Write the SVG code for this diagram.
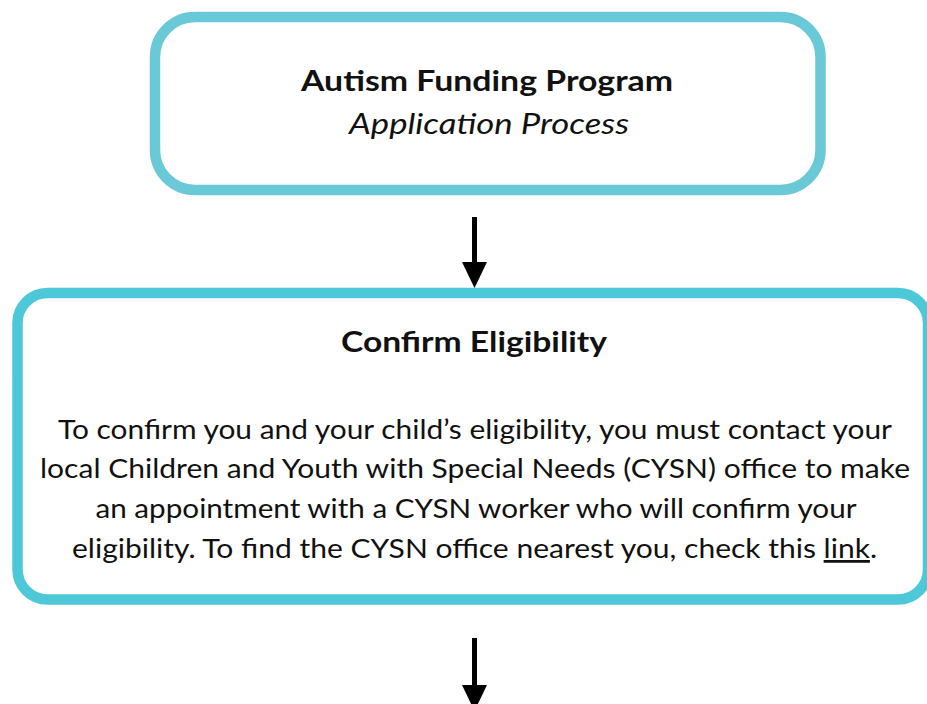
<svg xmlns="http://www.w3.org/2000/svg" width="927" height="704" viewBox="0 0 927 704">
<style>
.box1{fill:#fff;stroke:#6AC9D6;stroke-width:10.5}
.box2{fill:#fff;stroke:#4CC8D8;stroke-width:10.5}
text{font-family:Lato,"Noto Sans","Liberation Sans",sans-serif;fill:#111;text-anchor:middle}
.h{font-weight:bold;font-size:28px}
.i{font-style:italic;font-size:28px}
.b{font-size:27.5px}
.conn line{stroke:#000;stroke-width:5}
.conn polygon{fill:#000}
</style>
<rect width="927" height="704" fill="#fff"/>
<g id="node-title">
<rect class="box1" x="155" y="17" width="665.5" height="173" rx="40"/>
<text class="h" x="487" y="91" textLength="372" lengthAdjust="spacingAndGlyphs">Autism Funding Program</text>
<text class="i" x="489" y="134" textLength="280" lengthAdjust="spacingAndGlyphs">Application Process</text>
</g>
<g id="node-eligibility">
<rect class="box2" x="17.5" y="293" width="910.5" height="306.5" rx="30"/>
<text class="h" x="474" y="352" textLength="266" lengthAdjust="spacingAndGlyphs">Confirm Eligibility</text>
<text class="b" x="475" y="438.5" textLength="834" lengthAdjust="spacingAndGlyphs">To confirm you and your child’s eligibility, you must contact your</text>
<text class="b" x="475" y="478.3" textLength="870" lengthAdjust="spacingAndGlyphs">local Children and Youth with Special Needs (CYSN) office to make</text>
<text class="b" x="476" y="518" textLength="761" lengthAdjust="spacingAndGlyphs">an appointment with a CYSN worker who will confirm your</text>
<text class="b" x="474.5" y="558" textLength="805" lengthAdjust="spacingAndGlyphs">eligibility. To find the CYSN office nearest you, check this <tspan text-decoration="underline">link</tspan>.</text>
</g>
<g id="connectors" class="conn">
<line x1="474.5" y1="217" x2="474.5" y2="266"/>
<polygon points="462,262 487,262 474.5,288"/>
<line x1="474.5" y1="638" x2="474.5" y2="689"/>
<polygon points="462,685 487,685 474.5,711"/>
</g>
</svg>
